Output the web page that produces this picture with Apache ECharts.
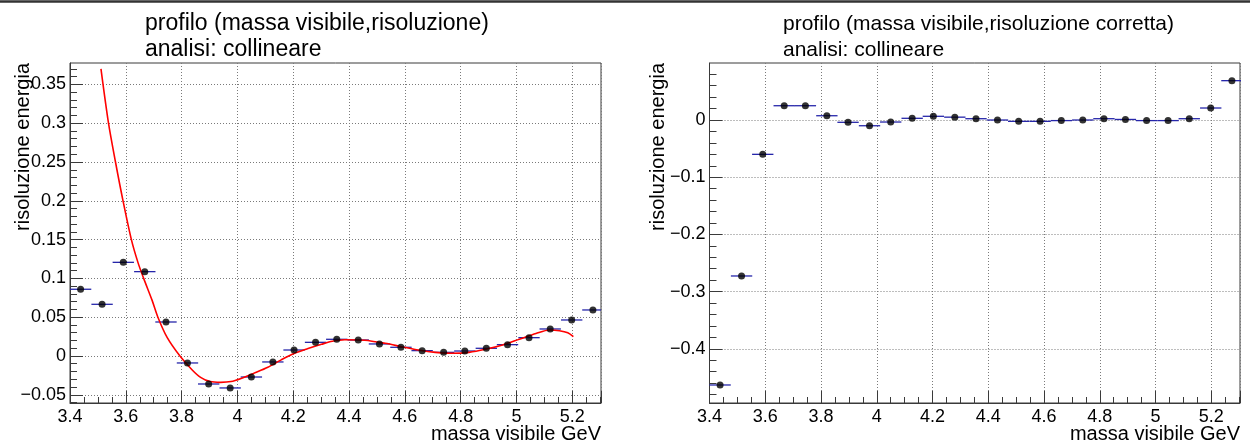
<!DOCTYPE html>
<html>
<head>
<meta charset="utf-8">
<script src="https://cdn.jsdelivr.net/npm/echarts@6/dist/echarts.min.js"></script>
<style>
  html, body { margin: 0; padding: 0; background: #ffffff; }
  #chart { width: 1250px; height: 444px; }
</style>
</head>
<body>
<div id="chart"></div>
<script>
// Bin centres of the visible-mass profile (GeV)
const binCenters = [3.438, 3.515, 3.591, 3.668, 3.744, 3.821, 3.897, 3.974, 4.050, 4.127,
                    4.203, 4.280, 4.356, 4.433, 4.509, 4.586, 4.662, 4.739, 4.815, 4.892,
                    4.968, 5.045, 5.121, 5.198, 5.274];
// Half width of each bin (x error)
const binHalfWidth = 0.0383;

// Mean energy resolution per bin, before correction
const resolution = [0.0860, 0.0666, 0.1207, 0.1087, 0.0438, -0.0090, -0.0361, -0.0412, -0.0271, -0.0077,
                    0.0077, 0.0176, 0.0215, 0.0206, 0.0155, 0.0112, 0.0069, 0.0047, 0.0064, 0.0099,
                    0.0146, 0.0236, 0.0348, 0.0464, 0.0593];

// Mean energy resolution per bin, after correction
const correctedResolution = [-0.4633, -0.2727, -0.0600, 0.0250, 0.0250, 0.0075, -0.0040, -0.0100, -0.0035, 0.0030,
                             0.0065, 0.0050, 0.0023, 0.0000, -0.0023, -0.0023, -0.0010, 0.0000, 0.0023, 0.0010,
                             -0.0010, -0.0010, 0.0023, 0.0210, 0.0688];

// Polynomial fit of the uncorrected profile, sampled along the curve
const fitCurve = [
  [3.511, 0.370], [3.538, 0.300], [3.563, 0.250], [3.590, 0.200], [3.620, 0.150],
  [3.644, 0.120], [3.664, 0.100], [3.694, 0.072], [3.715, 0.050], [3.748, 0.024],
  [3.794, 0.000], [3.838, -0.018], [3.868, -0.0275], [3.902, -0.033], [3.940, -0.034],
  [3.977, -0.033], [4.013, -0.029], [4.061, -0.022], [4.109, -0.0146], [4.157, -0.005],
  [4.205, 0.0035], [4.253, 0.0095], [4.301, 0.0150], [4.340, 0.0190], [4.385, 0.0210],
  [4.457, 0.0203], [4.529, 0.0163], [4.589, 0.0120], [4.649, 0.0077], [4.709, 0.0047],
  [4.769, 0.0035], [4.830, 0.0047], [4.889, 0.0086], [4.950, 0.0142], [5.010, 0.0215],
  [5.070, 0.0290], [5.118, 0.0335], [5.154, 0.0326], [5.184, 0.0300], [5.204, 0.0250]
];

// Axis ranges and tick values
const xRange = [3.4, 5.303];
const xStep = 0.2;
const yRangeLeft = [-0.0606, 0.3776];
const yTicksLeft = [-0.05, 0, 0.05, 0.1, 0.15, 0.2, 0.25, 0.3, 0.35];
const yMinorStepLeft = 0.01;
const yRangeRight = [-0.4948, 0.0997];
const yTicksRight = [-0.4, -0.3, -0.2, -0.1, 0];
const yMinorStepRight = 0.02;

const FONT = 'Liberation Sans, Arial, Helvetica, sans-serif';
const AXIS_COLOR = '#3a3a3a';

function numText(v) {
  const r = parseFloat(v.toFixed(4));
  return r < 0 ? '\u2212' + String(-r) : String(r);
}

function minorValues(range, step) {
  const out = [];
  const start = Math.ceil(range[0] / step - 1e-9);
  const end = Math.floor(range[1] / step + 1e-9);
  for (let k = start; k <= end; k++) out.push(parseFloat((k * step).toFixed(4)));
  return out;
}

function xAxisCfg(gridIndex) {
  return {
    type: 'value', gridIndex: gridIndex,
    min: xRange[0], max: xRange[1], interval: xStep,
    axisLine: { show: true, onZero: false, lineStyle: { color: AXIS_COLOR, width: 1 } },
    axisTick: { show: true, inside: true, length: 12, lineStyle: { color: AXIS_COLOR } },
    minorTick: { show: true, splitNumber: 4, length: 6, lineStyle: { color: AXIS_COLOR } },
    axisLabel: {
      formatter: function (v) {
        const k = v / xStep;
        return Math.abs(k - Math.round(k)) > 1e-6 ? '' : numText(Math.round(k) * xStep);
      },
      color: '#000', fontSize: 18, fontFamily: FONT, margin: 5
    },
    splitLine: { show: true, lineStyle: { color: '#7a7a7a', type: [1, 2], width: 1 } }
  };
}

// Major y axis: labels, long ticks and grid lines at the given values
function yAxisCfg(gridIndex, range, ticks) {
  return {
    type: 'value', gridIndex: gridIndex,
    min: range[0], max: range[1],
    axisLine: { show: true, onZero: false, lineStyle: { color: AXIS_COLOR, width: 1 } },
    axisTick: { show: true, inside: true, length: 13, customValues: ticks, lineStyle: { color: AXIS_COLOR } },
    axisLabel: { customValues: ticks, formatter: numText, color: '#000', fontSize: 18, fontFamily: FONT, margin: 4 },
    splitLine: { show: true, lineStyle: { color: '#7a7a7a', type: [1, 2], width: 1 } }
  };
}

// Companion y axis carrying only the short minor ticks
function yMinorAxisCfg(gridIndex, range, step) {
  return {
    type: 'value', gridIndex: gridIndex, position: 'left',
    min: range[0], max: range[1],
    axisLine: { show: false },
    axisTick: { show: true, inside: true, length: 7, customValues: minorValues(range, step), lineStyle: { color: AXIS_COLOR } },
    axisLabel: { show: false },
    splitLine: { show: false }
  };
}

function errorBars(xIdx, yIdx, values) {
  return {
    type: 'custom', xAxisIndex: xIdx, yAxisIndex: yIdx,
    data: binCenters.map((c, i) => [c, values[i]]),
    renderItem: function (params, api) {
      const x = api.value(0), y = api.value(1);
      const a = api.coord([x - binHalfWidth, y]);
      const b = api.coord([x + binHalfWidth, y]);
      return {
        type: 'line',
        shape: { x1: a[0], y1: a[1], x2: b[0], y2: b[1] },
        style: { stroke: '#2626aa', lineWidth: 1.3 }
      };
    },
    clip: true, silent: true, z: 2
  };
}

function markers(xIdx, yIdx, values) {
  return {
    type: 'scatter', xAxisIndex: xIdx, yAxisIndex: yIdx,
    data: binCenters.map((c, i) => [c, values[i]]),
    symbol: 'circle', symbolSize: 7,
    itemStyle: { color: '#000' },
    silent: true, z: 4
  };
}

function titleBlock(x, lines, size) {
  return lines.map((t, i) => ({
    type: 'text', x: x, y: 24 + i * 26,
    style: { text: t, font: size + 'px ' + FONT, fill: '#000', textVerticalAlign: 'middle' }
  }));
}

const chart = echarts.init(document.getElementById('chart'), null, { renderer: 'canvas' });

chart.setOption({
  animation: false,
  backgroundColor: '#ffffff',
  grid: [
    { left: 70, top: 63, width: 531, height: 340, show: true, borderColor: AXIS_COLOR, borderWidth: 1, backgroundColor: 'transparent' },
    { left: 709.5, top: 63, width: 530.5, height: 340, show: true, borderColor: AXIS_COLOR, borderWidth: 1, backgroundColor: 'transparent' }
  ],
  xAxis: [xAxisCfg(0), xAxisCfg(1)],
  yAxis: [
    yAxisCfg(0, yRangeLeft, yTicksLeft),
    yAxisCfg(1, yRangeRight, yTicksRight),
    yMinorAxisCfg(0, yRangeLeft, yMinorStepLeft),
    yMinorAxisCfg(1, yRangeRight, yMinorStepRight)
  ],
  series: [
    errorBars(0, 0, resolution),
    {
      type: 'line', xAxisIndex: 0, yAxisIndex: 0,
      data: fitCurve, smooth: 0.3, showSymbol: false, clip: true,
      lineStyle: { color: '#ff0000', width: 1.6 }, silent: true, z: 3
    },
    markers(0, 0, resolution),
    errorBars(1, 1, correctedResolution),
    markers(1, 1, correctedResolution)
  ],
  graphic: [
    { type: 'line', shape: { x1: 0, y1: 1.5, x2: 1250, y2: 1.5 }, style: { stroke: '#333', lineWidth: 2.5 } },
    ...titleBlock(145, ['profilo (massa visibile,risoluzione)', 'analisi: collineare'], 23),
    ...titleBlock(783, ['profilo (massa visibile,risoluzione corretta)', 'analisi: collineare'], 21),
    { type: 'text', x: 601, y: 434, style: { text: 'massa visibile GeV', font: '20px ' + FONT, fill: '#000', textAlign: 'right', textVerticalAlign: 'middle' } },
    { type: 'text', x: 1240, y: 434, style: { text: 'massa visibile GeV', font: '20px ' + FONT, fill: '#000', textAlign: 'right', textVerticalAlign: 'middle' } },
    { type: 'text', x: 23, y: 63, rotation: Math.PI / 2, style: { text: 'risoluzione energia', font: '20px ' + FONT, fill: '#000', textAlign: 'right', textVerticalAlign: 'middle' } },
    { type: 'text', x: 658, y: 63, rotation: Math.PI / 2, style: { text: 'risoluzione energia', font: '20px ' + FONT, fill: '#000', textAlign: 'right', textVerticalAlign: 'middle' } }
  ]
});
</script>
</body>
</html>
